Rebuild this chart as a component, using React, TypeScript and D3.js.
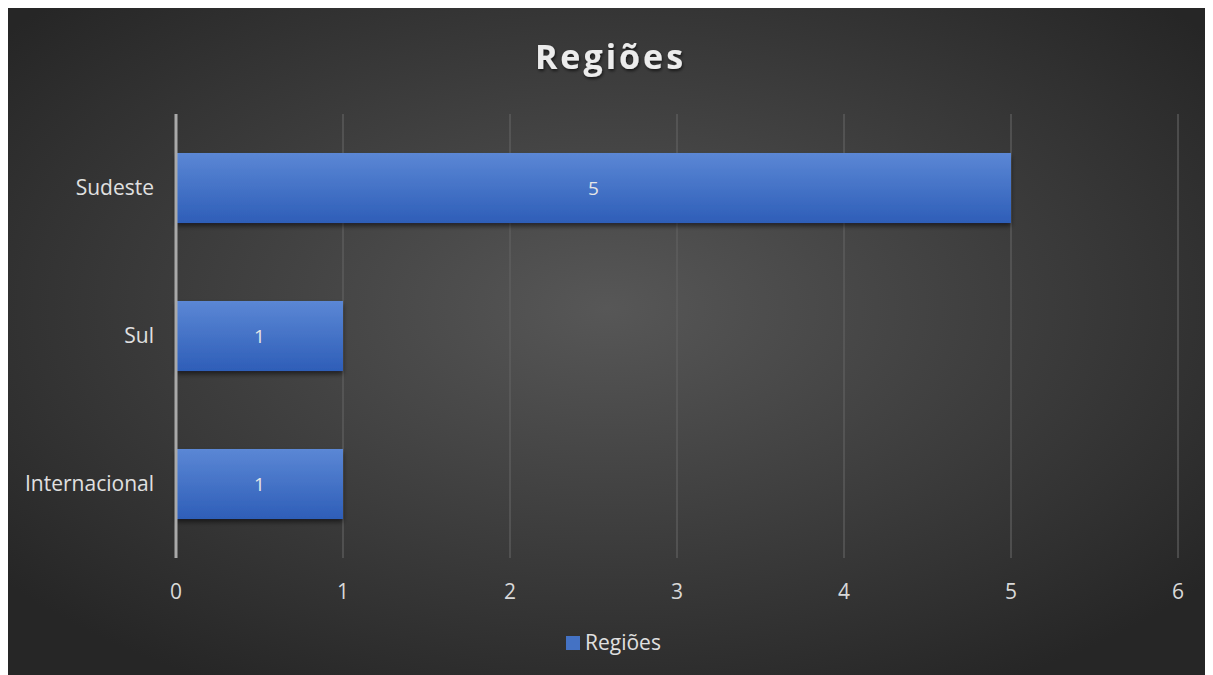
import * as d3 from "d3";
import React, { useEffect, useRef } from "react";

const categories = ["Sudeste", "Sul", "Internacional"];
const values = [5, 1, 1];
const ticks = [0, 1, 2, 3, 4, 5, 6];
const title = "Regiões";
const seriesName = "Regiões";

const width = 1197;
const height = 667;

export default function App() {
  const holderRef = useRef<HTMLDivElement | null>(null);

  useEffect(() => {
    const holder = holderRef.current;
    if (!holder || holder.hasChildNodes()) return;

    const font = "'Open Sans', 'Noto Sans', sans-serif";
    const left = 168;
    const right = 1170;
    const top = 106;
    const bottom = 550;

    const x = d3.scaleLinear().domain([0, 6]).range([left, right]);
    const y = d3
      .scaleBand()
      .domain(categories)
      .range([top, bottom])
      .paddingInner(0.527)
      .paddingOuter(0.2635);

    const svg = d3
      .select(holder)
      .append("svg")
      .attr("width", width)
      .attr("height", height)
      .style("display", "block")
      .style("font-family", font);

    const defs = svg.append("defs");
    const bg = defs
      .append("radialGradient")
      .attr("id", "bg")
      .attr("cx", "50%")
      .attr("cy", "45%")
      .attr("r", "65%");
    bg.append("stop").attr("offset", "0%").attr("stop-color", "#575757");
    bg.append("stop").attr("offset", "100%").attr("stop-color", "#262626");

    const barGrad = defs
      .append("linearGradient")
      .attr("id", "bar")
      .attr("x1", 0)
      .attr("y1", 0)
      .attr("x2", 0)
      .attr("y2", 1);
    barGrad.append("stop").attr("offset", "0%").attr("stop-color", "#5b87d5");
    barGrad.append("stop").attr("offset", "100%").attr("stop-color", "#2e5eb8");

    const shadow = defs
      .append("filter")
      .attr("id", "shadow")
      .attr("x", "-10%")
      .attr("y", "-20%")
      .attr("width", "120%")
      .attr("height", "160%");
    shadow
      .append("feDropShadow")
      .attr("dx", 0)
      .attr("dy", 3)
      .attr("stdDeviation", 2.5)
      .attr("flood-color", "#000")
      .attr("flood-opacity", 0.55);

    const textShadow = defs.append("filter").attr("id", "tshadow");
    textShadow
      .append("feDropShadow")
      .attr("dx", 1)
      .attr("dy", 2)
      .attr("stdDeviation", 1.5)
      .attr("flood-color", "#000")
      .attr("flood-opacity", 0.6);

    svg
      .append("rect")
      .attr("width", width)
      .attr("height", height)
      .attr("fill", "url(#bg)");

    // title
    svg
      .append("text")
      .attr("x", width / 2 + 4)
      .attr("y", 61)
      .attr("text-anchor", "middle")
      .attr("font-size", 34)
      .attr("font-weight", "bold")
      .attr("letter-spacing", 3)
      .attr("fill", "#ececec")
      .attr("filter", "url(#tshadow)")
      .text(title);

    // gridlines
    svg
      .append("g")
      .selectAll("line")
      .data(ticks.slice(1))
      .join("line")
      .attr("x1", (d) => x(d))
      .attr("x2", (d) => x(d))
      .attr("y1", top)
      .attr("y2", bottom)
      .attr("stroke", "#626262")
      .attr("stroke-width", 1.2);

    // bars
    svg
      .append("g")
      .selectAll("rect")
      .data(values)
      .join("rect")
      .attr("x", x(0))
      .attr("y", (d, i) => y(categories[i])!)
      .attr("width", (d) => x(d) - x(0))
      .attr("height", y.bandwidth())
      .attr("fill", "url(#bar)")
      .attr("filter", "url(#shadow)");

    // axis line
    svg
      .append("line")
      .attr("x1", x(0))
      .attr("x2", x(0))
      .attr("y1", top)
      .attr("y2", bottom)
      .attr("stroke", "#a9a9a9")
      .attr("stroke-width", 3);

    // bar labels
    svg
      .append("g")
      .selectAll("text")
      .data(values)
      .join("text")
      .attr("x", (d) => (x(d) + x(0)) / 2)
      .attr("y", (d, i) => y(categories[i])! + y.bandwidth() / 2)
      .attr("dy", "0.35em")
      .attr("text-anchor", "middle")
      .attr("font-size", 19)
      .attr("fill", "#e6e6e6")
      .text((d) => d);

    // category labels
    svg
      .append("g")
      .selectAll("text")
      .data(categories)
      .join("text")
      .attr("x", left - 22)
      .attr("y", (d) => y(d)! + y.bandwidth() / 2)
      .attr("dy", "0.35em")
      .attr("text-anchor", "end")
      .attr("font-size", 21)
      .attr("fill", "#e0e0e0")
      .text((d) => d);

    // tick labels
    svg
      .append("g")
      .selectAll("text")
      .data(ticks)
      .join("text")
      .attr("x", (d) => x(d))
      .attr("y", 584)
      .attr("dy", "0.35em")
      .attr("text-anchor", "middle")
      .attr("font-size", 21)
      .attr("fill", "#d9d9d9")
      .text((d) => d);

    // legend
    const legend = svg.append("g").attr("transform", "translate(558,635)");
    legend
      .append("rect")
      .attr("x", 0)
      .attr("y", -7)
      .attr("width", 14)
      .attr("height", 14)
      .attr("fill", "#4472c4");
    legend
      .append("text")
      .attr("x", 19)
      .attr("y", 0)
      .attr("dy", "0.35em")
      .attr("font-size", 21)
      .attr("fill", "#e0e0e0")
      .text(seriesName);
  }, []);

  return <div ref={holderRef} />;
}
